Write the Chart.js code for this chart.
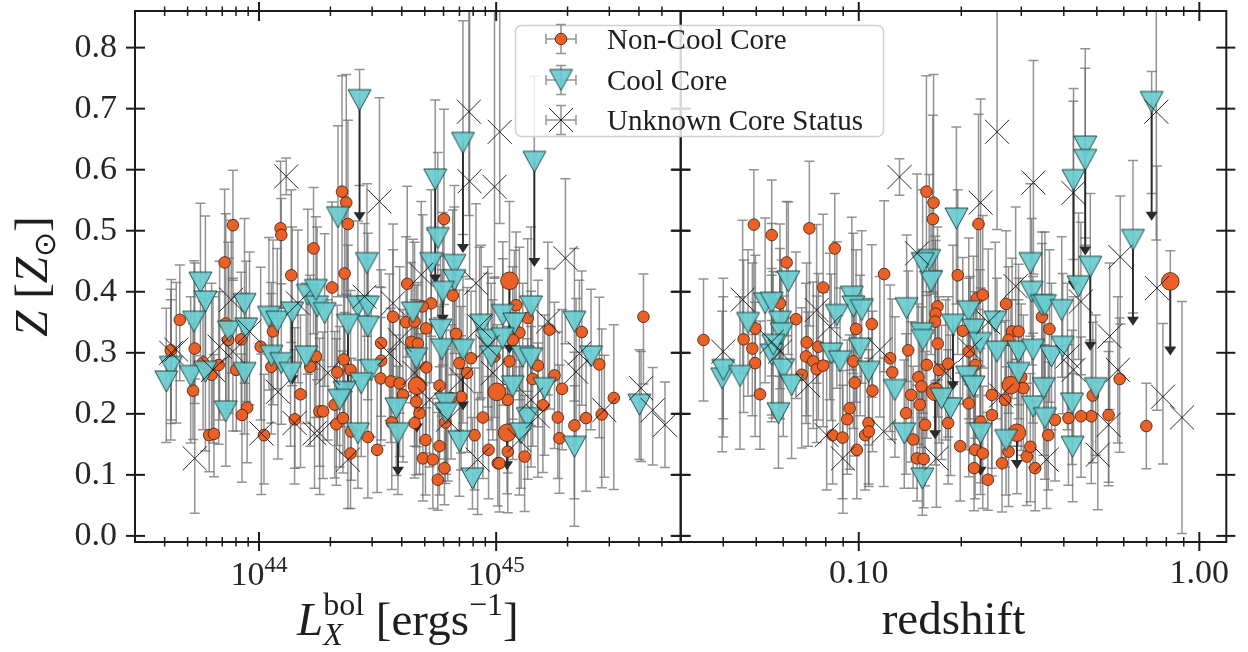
<!DOCTYPE html>
<html>
<head>
<meta charset="utf-8">
<script src="https://cdn.jsdelivr.net/npm/chart.js@4/dist/chart.umd.min.js"></script>
<style>
  html, body { margin: 0; padding: 0; background: #fff; }
  #wrap { position: relative; width: 1248px; height: 652px; }
  #wrap canvas { position: absolute; left: 0; top: 0; }
</style>
</head>
<body>
<div id="wrap">
  <canvas id="lumChart" width="1248" height="652"></canvas>
  <canvas id="zChart" width="1248" height="652"></canvas>
</div>
<script>
// ---------- luminosity panel: [log10 Lx_bol, Z, error below, error above] ----------
const lxNcc = [
  [43.890,0.509,0.09,0.09],[43.855,0.448,0.10,0.12],[43.666,0.354,0.10,0.09],[43.628,0.304,0.12,0.10],
  [43.729,0.307,0.09,0.14],[43.764,0.284,0.11,0.10],[43.830,0.280,0.13,0.12],[43.800,0.264,0.10,0.15],
  [43.722,0.238,0.08,0.11],[43.790,0.165,0.06,0.10],[43.810,0.167,0.07,0.13],[43.860,0.348,0.14,0.18],
  [43.870,0.321,0.12,0.16],[43.904,0.272,0.10,0.12],[43.950,0.210,0.09,0.14],[43.928,0.198,0.11,0.10],
  [43.925,0.322,0.13,0.11],[44.007,0.310,0.12,0.13],[44.021,0.165,0.08,0.10],[44.091,0.504,0.13,0.11],
  [44.094,0.493,0.12,0.06],[44.136,0.427,0.11,0.14],[44.059,0.335,0.12,0.15],[44.052,0.277,0.11,0.12],
  [44.175,0.232,0.12,0.13],[44.151,0.191,0.08,0.15],[44.230,0.471,0.14,0.10],[44.216,0.277,0.13,0.15],
  [44.240,0.294,0.10,0.11],[44.255,0.204,0.09,0.12],
  [44.350,0.564,0.17,0.19],[44.368,0.546,0.15,0.21],[44.375,0.511,0.12,0.17],[44.361,0.430,0.16,0.12],
  [44.308,0.407,0.13,0.14],[44.780,0.519,0.14,0.18],[44.625,0.413,0.12,0.16],[44.726,0.381,0.13,0.12],
  [44.690,0.376,0.10,0.15],[44.565,0.359,0.14,0.11],[44.620,0.350,0.12,0.14],[44.656,0.351,0.11,0.13],
  [44.705,0.340,0.13,0.12],[44.515,0.316,0.12,0.12],[44.642,0.318,0.10,0.13],[44.670,0.315,0.12,0.10],
  [44.817,0.394,0.13,0.14],[44.831,0.331,0.11,0.12],[44.357,0.289,0.11,0.14],[44.330,0.268,0.12,0.11],
  [44.386,0.272,0.10,0.13],[44.515,0.287,0.13,0.12],[44.513,0.258,0.11,0.10],[44.555,0.253,0.10,0.12],
  [44.593,0.250,0.12,0.11],[44.607,0.231,0.11,0.14],[44.705,0.276,0.14,0.10],[44.663,0.220,0.12,0.12],
  [44.677,0.201,0.10,0.13],[44.656,0.185,0.09,0.11],[44.761,0.246,0.12,0.13],[44.845,0.283,0.11,0.12],
  [44.878,0.267,0.13,0.14],[44.852,0.228,0.12,0.10],[44.810,0.226,0.10,0.12],[44.894,0.291,0.12,0.11],
  [44.993,0.294,0.10,0.13],[44.270,0.204,0.11,0.13],[44.319,0.215,0.12,0.12],[44.326,0.183,0.10,0.14],
  [44.354,0.193,0.09,0.11],[44.389,0.171,0.08,0.12],[44.386,0.135,0.09,0.13],[44.459,0.162,0.10,0.10],
  [44.498,0.141,0.07,0.12],[44.560,0.186,0.11,0.12],[44.702,0.157,0.09,0.12],[44.761,0.147,0.08,0.13],
  [44.691,0.127,0.07,0.12],[44.733,0.125,0.08,0.10],[44.782,0.111,0.06,0.12],[44.754,0.092,0.05,0.11],
  [44.786,0.186,0.10,0.12],[44.909,0.165,0.09,0.11],[44.944,0.194,0.10,0.13],[44.968,0.141,0.08,0.12],
  [45.007,0.119,0.07,0.11],
  [45.084,0.378,0.14,0.12],[45.133,0.357,0.12,0.13],[45.098,0.333,0.11,0.14],[45.225,0.338,0.13,0.10],
  [45.361,0.334,0.12,0.10],[45.176,0.279,0.10,0.14],[45.154,0.257,0.11,0.12],[45.246,0.263,0.12,0.12],
  [45.278,0.241,0.10,0.13],[45.197,0.214,0.11,0.13],[45.260,0.194,0.10,0.14],[45.267,0.160,0.09,0.12],
  [45.330,0.181,0.12,0.12],[45.379,0.193,0.12,0.11],[45.435,0.281,0.12,0.11],[45.445,0.199,0.12,0.14],
  [45.496,0.226,0.15,0.12],[45.621,0.359,0.11,0.07],[45.049,0.223,0.12,0.12],[45.014,0.119,0.08,0.12],
  [45.120,0.130,0.09,0.10],[45.049,0.138,0.10,0.11],[45.056,0.286,0.12,0.13],[45.070,0.321,0.13,0.12]
];
const lxNccMarked = [
  [44.666,0.246,0.10,0.14],[45.003,0.236,0.12,0.11],[45.056,0.418,0.11,0.13],[45.046,0.169,0.10,0.12]
];
const lxCc = [
  [43.753,0.415,0.12,0.13],[43.774,0.384,0.11,0.14],[43.726,0.351,0.12,0.10],[43.628,0.277,0.12,0.11],
  [43.609,0.253,0.10,0.12],[43.712,0.262,0.11,0.13],[43.774,0.269,0.13,0.12],[43.873,0.335,0.12,0.12],
  [43.939,0.380,0.13,0.14],[43.946,0.340,0.12,0.11],[43.939,0.267,0.10,0.13],[43.860,0.204,0.09,0.12],
  [44.042,0.359,0.12,0.13],[44.077,0.351,0.11,0.12],[44.052,0.295,0.11,0.12],[44.094,0.283,0.10,0.13],
  [44.140,0.366,0.12,0.14],[44.133,0.267,0.12,0.11],[44.206,0.395,0.13,0.14],[44.199,0.294,0.11,0.12],
  [44.245,0.376,0.12,0.13],
  [44.424,0.714,0.14,0.05],[44.860,0.644,0.15,0.20],[44.333,0.522,0.13,0.15],[44.743,0.584,0.14,0.13],
  [44.455,0.447,0.12,0.13],[44.754,0.488,0.13,0.14],[44.726,0.447,0.12,0.12],[44.824,0.444,0.11,0.13],
  [44.824,0.419,0.12,0.12],[44.775,0.400,0.12,0.13],[44.240,0.403,0.13,0.12],[44.277,0.365,0.12,0.13],
  [44.417,0.376,0.11,0.14],[44.459,0.376,0.12,0.12],[44.459,0.343,0.12,0.11],[44.375,0.346,0.11,0.13],
  [44.649,0.366,0.13,0.12],[44.765,0.338,0.12,0.12],[44.771,0.306,0.11,0.13],[44.860,0.305,0.12,0.12],
  [44.663,0.291,0.11,0.12],[44.937,0.346,0.12,0.13],[44.965,0.321,0.11,0.12],[44.979,0.294,0.12,0.12],
  [44.473,0.272,0.11,0.12],[44.431,0.250,0.12,0.11],[44.361,0.236,0.10,0.13],[44.340,0.223,0.11,0.12],
  [44.579,0.209,0.11,0.12],[44.586,0.168,0.10,0.11],[44.417,0.168,0.09,0.12],[44.789,0.217,0.11,0.12],
  [44.789,0.201,0.10,0.11],[44.845,0.155,0.09,0.11],[44.900,0.094,0.05,0.10],
  [45.161,0.613,0.16,0.14],[45.147,0.376,0.12,0.13],[45.330,0.351,0.13,0.12],[45.400,0.294,0.12,0.11],
  [45.028,0.362,0.12,0.12],[45.077,0.348,0.11,0.12],[45.028,0.324,0.11,0.13],[45.112,0.294,0.12,0.12],
  [45.147,0.291,0.11,0.11],[45.070,0.245,0.12,0.12],[45.204,0.242,0.11,0.12],[45.133,0.193,0.10,0.13],
  [45.105,0.168,0.09,0.12],[45.330,0.146,0.13,0.10],[45.604,0.215,0.09,0.09]
];
const lxUnknown = [
  [44.115,0.589,0.03,0.03],[43.883,0.387,0.12,0.13],[43.651,0.305,0.12,0.11],[43.630,0.300,0.11,0.12],
  [43.834,0.310,0.12,0.14],[43.890,0.302,0.13,0.12],[43.960,0.335,0.12,0.13],[43.729,0.127,0.09,0.13],
  [43.806,0.272,0.12,0.12],[44.010,0.168,0.10,0.13],[44.080,0.236,0.11,0.12],[44.164,0.381,0.13,0.12],
  [44.150,0.185,0.10,0.12],[44.234,0.168,0.09,0.12],
  [44.508,0.548,0.14,0.17],[44.888,0.581,0.16,0.30],[44.993,0.572,0.15,0.30],[44.915,0.414,0.12,0.13],
  [44.445,0.392,0.13,0.12],[44.565,0.381,0.12,0.13],[44.684,0.428,0.13,0.12],[44.593,0.321,0.12,0.12],
  [44.550,0.299,0.11,0.13],[44.656,0.267,0.12,0.12],[44.290,0.267,0.11,0.12],[44.256,0.168,0.10,0.12],
  [44.375,0.125,0.08,0.12],[44.922,0.125,0.09,0.11],[44.719,0.223,0.11,0.12],[44.796,0.190,0.10,0.13],
  [44.852,0.256,0.12,0.12],[44.930,0.343,0.12,0.13],[44.965,0.310,0.12,0.12],[44.986,0.267,0.11,0.12],
  [44.885,0.695,0.17,0.30],[45.015,0.662,0.15,0.30],
  [45.292,0.455,0.14,0.13],[45.218,0.351,0.12,0.13],[45.337,0.269,0.12,0.12],[45.351,0.299,0.11,0.12],
  [45.456,0.206,0.11,0.09],[45.611,0.242,0.12,0.06],[45.660,0.206,0.09,0.07],[45.712,0.182,0.07,0.07],
  [45.147,0.223,0.11,0.12],[45.176,0.196,0.10,0.12],[45.098,0.157,0.09,0.12]
];
// upper limits: [log10 Lx_bol, Z, arrow tip]
const lxLimits = [
  [44.424,0.714,0.522],[44.860,0.644,0.470],[45.161,0.613,0.447],[44.743,0.584,0.420],
  [44.775,0.400,0.354],[44.375,0.346,0.245],[44.860,0.305,0.212],[44.586,0.168,0.105],
  [44.140,0.366,0.255],[44.666,0.246,0.176],[45.056,0.418,0.305],[45.046,0.169,0.114]
];

// ---------- redshift panel: [z, Z, error below, error above] ----------
const zNcc = [
  [0.0350,0.321,0.10,0.10],[0.0492,0.510,0.18,0.09],[0.0555,0.493,0.14,0.09],[0.0614,0.448,0.12,0.10],
  [0.0716,0.504,0.16,0.11],[0.0850,0.471,0.13,0.09],[0.0786,0.407,0.12,0.12],[0.0654,0.355,0.13,0.11],
  [0.0459,0.322,0.12,0.13],[0.0487,0.307,0.11,0.14],[0.0496,0.283,0.12,0.10],[0.0497,0.340,0.11,0.12],
  [0.0587,0.381,0.12,0.13],[0.0513,0.232,0.09,0.12],[0.0703,0.317,0.12,0.13],[0.0700,0.294,0.11,0.12],
  [0.0761,0.310,0.12,0.12],[0.0735,0.286,0.11,0.13],[0.0752,0.273,0.12,0.12],[0.0786,0.279,0.10,0.12],
  [0.0680,0.264,0.12,0.11],[0.0982,0.339,0.12,0.13],[0.0964,0.286,0.11,0.12],[0.0973,0.251,0.12,0.13],
  [0.0940,0.209,0.10,0.12],[0.0925,0.191,0.09,0.13],[0.0838,0.165,0.08,0.12],[0.0896,0.161,0.10,0.11],
  [0.0987,0.141,0.08,0.12],[0.1044,0.165,0.09,0.12],
  [0.1580,0.564,0.17,0.19],[0.1658,0.546,0.15,0.21],[0.1650,0.519,0.12,0.17],[0.2247,0.511,0.14,0.18],
  [0.1187,0.429,0.16,0.12],[0.1953,0.427,0.13,0.14],[0.1703,0.376,0.12,0.13],[0.1680,0.364,0.11,0.12],
  [0.1676,0.351,0.10,0.14],[0.1706,0.315,0.12,0.12],[0.1397,0.304,0.11,0.13],[0.1092,0.347,0.12,0.13],
  [0.1236,0.291,0.12,0.12],[0.1254,0.268,0.11,0.12],[0.1097,0.238,0.10,0.13],[0.1068,0.185,0.10,0.12],
  [0.1070,0.171,0.09,0.12],[0.1584,0.280,0.12,0.12],[0.1497,0.260,0.11,0.12],[0.1527,0.245,0.10,0.13],
  [0.1720,0.272,0.12,0.12],[0.1830,0.282,0.12,0.11],[0.1425,0.231,0.11,0.12],[0.1510,0.215,0.11,0.12],
  [0.1377,0.201,0.10,0.13],[0.1444,0.158,0.08,0.12],[0.1566,0.182,0.10,0.12],[0.1483,0.127,0.07,0.12],
  [0.1550,0.126,0.08,0.11],[0.1985,0.147,0.09,0.12],[0.1830,0.185,0.10,0.12],[0.2104,0.217,0.12,0.12],
  [0.2222,0.389,0.13,0.12],[0.2312,0.395,0.12,0.13],[0.2020,0.336,0.12,0.12],[0.2104,0.302,0.11,0.12],
  [0.2200,0.280,0.12,0.12],[0.2707,0.380,0.13,0.12],[0.2820,0.335,0.11,0.12],[0.2945,0.335,0.12,0.11],
  [0.2753,0.321,0.12,0.12],[0.2998,0.260,0.12,0.12],[0.3043,0.242,0.11,0.12],[0.2459,0.231,0.12,0.12],
  [0.2459,0.198,0.10,0.12],[0.2688,0.223,0.11,0.13],[0.2279,0.187,0.10,0.12],[0.2196,0.141,0.08,0.12],
  [0.2312,0.135,0.09,0.11],[0.2180,0.111,0.07,0.12],[0.2394,0.092,0.05,0.11],[0.2634,0.119,0.08,0.11],
  [0.2753,0.138,0.09,0.12],[0.3115,0.130,0.08,0.12],[0.3296,0.111,0.07,0.11],[0.3190,0.146,0.09,0.12],
  [0.3450,0.359,0.13,0.12],
  [0.6988,0.180,0.07,0.07],[0.5834,0.257,0.12,0.10],[0.5415,0.198,0.11,0.12],[0.4816,0.196,0.11,0.12],
  [0.4494,0.196,0.10,0.13],[0.4127,0.193,0.11,0.12],[0.3630,0.339,0.12,0.13],[0.3600,0.165,0.09,0.12],
  [0.3768,0.190,0.10,0.12],[0.4866,0.230,0.11,0.12]
];
const zNccMarked = [
  [0.8217,0.417,0.11,0.05],[0.1676,0.236,0.12,0.11],[0.2797,0.247,0.10,0.14],[0.2913,0.169,0.10,0.12]
];
const zCc = [
  [0.0397,0.258,0.12,0.11],[0.0400,0.272,0.11,0.12],[0.0448,0.262,0.12,0.13],[0.0473,0.349,0.12,0.12],
  [0.0531,0.381,0.13,0.14],[0.0555,0.382,0.12,0.13],[0.0621,0.417,0.12,0.13],[0.0587,0.351,0.11,0.12],
  [0.0594,0.332,0.12,0.12],[0.0555,0.297,0.11,0.13],[0.0561,0.313,0.12,0.12],[0.0600,0.273,0.11,0.12],
  [0.0635,0.247,0.12,0.11],[0.0581,0.201,0.09,0.12],[0.0954,0.392,0.12,0.13],[0.0964,0.376,0.11,0.12],
  [0.0862,0.362,0.12,0.12],[0.0830,0.299,0.11,0.13],[0.0881,0.286,0.12,0.12],[0.1009,0.307,0.11,0.12],
  [0.1935,0.520,0.14,0.15],[0.1610,0.452,0.12,0.14],[0.1630,0.417,0.12,0.13],[0.1540,0.447,0.13,0.12],
  [0.1382,0.373,0.12,0.12],[0.1534,0.332,0.11,0.13],[0.1543,0.321,0.12,0.12],[0.1277,0.239,0.11,0.12],
  [0.1068,0.269,0.12,0.12],[0.1020,0.370,0.12,0.13],[0.1360,0.168,0.09,0.12],[0.1537,0.094,0.06,0.10],
  [0.1891,0.346,0.12,0.13],[0.2104,0.368,0.12,0.12],[0.2172,0.338,0.11,0.12],[0.2516,0.351,0.12,0.13],
  [0.2546,0.302,0.11,0.12],[0.2270,0.316,0.12,0.12],[0.2081,0.261,0.12,0.12],[0.2172,0.245,0.11,0.12],
  [0.1859,0.209,0.11,0.12],[0.1750,0.225,0.10,0.12],[0.2279,0.168,0.10,0.11],[0.2707,0.157,0.09,0.12],
  [0.3190,0.447,0.12,0.13],[0.3220,0.400,0.12,0.12],[0.3450,0.378,0.12,0.12],[0.2945,0.302,0.11,0.12],
  [0.3250,0.305,0.12,0.12],[0.3250,0.212,0.10,0.12],[0.2945,0.267,0.12,0.12],
  [0.4624,0.638,0.15,0.16],[0.4624,0.616,0.14,0.15],[0.4272,0.583,0.13,0.15],[0.4784,0.441,0.12,0.12],
  [0.6384,0.485,0.12,0.13],[0.7244,0.711,0.15,0.05],[0.4420,0.409,0.12,0.12],[0.3520,0.378,0.12,0.12],
  [0.3944,0.370,0.11,0.12],[0.3680,0.294,0.12,0.12],[0.3970,0.310,0.11,0.12],[0.3490,0.242,0.11,0.12],
  [0.4226,0.217,0.10,0.12],[0.4965,0.242,0.11,0.12],[0.3520,0.193,0.10,0.12],[0.4245,0.146,0.09,0.12]
];
const zUnknown = [
  [0.0456,0.387,0.12,0.13],[0.0400,0.302,0.11,0.12],[0.0555,0.318,0.12,0.12],[0.0587,0.302,0.11,0.13],
  [0.0710,0.247,0.10,0.12],[0.0752,0.370,0.12,0.14],[0.0822,0.343,0.12,0.12],[0.0805,0.165,0.09,0.12],
  [0.0898,0.127,0.09,0.12],
  [0.1317,0.588,0.03,0.03],[0.2279,0.546,0.14,0.17],[0.3257,0.579,0.15,0.20],[0.2547,0.662,0.16,0.30],
  [0.1483,0.463,0.12,0.13],[0.1153,0.305,0.11,0.12],[0.1184,0.171,0.09,0.12],[0.1690,0.127,0.08,0.12],
  [0.2889,0.409,0.12,0.13],[0.2125,0.305,0.12,0.12],[0.1800,0.267,0.11,0.12],[0.2400,0.350,0.12,0.12],
  [0.2620,0.230,0.11,0.12],
  [0.5859,0.457,0.11,0.10],[0.7509,0.406,0.20,0.20],[0.5455,0.327,0.12,0.12],[0.5763,0.272,0.12,0.12],
  [0.7819,0.228,0.11,0.12],[0.8893,0.194,0.19,0.19],[0.5415,0.182,0.10,0.12],[0.5033,0.133,0.09,0.12],
  [0.4490,0.384,0.12,0.13],[0.4272,0.272,0.11,0.12],[0.4266,0.562,0.14,0.15],[0.7475,0.695,0.21,0.30],
  [0.3560,0.125,0.08,0.12],[0.4100,0.294,0.12,0.12]
];
// upper limits: [z, Z, arrow tip]
const zLimits = [
  [0.4624,0.616,0.466],[0.4272,0.583,0.410],[0.4784,0.441,0.310],[0.6384,0.485,0.351],
  [0.7244,0.711,0.523],[0.1891,0.346,0.245],[0.2279,0.168,0.105],
  [0.8217,0.417,0.302],[0.1676,0.236,0.165],[0.2913,0.169,0.116]
];

// ---------- axes ----------
const metalTicks = [0.0, 0.1, 0.2, 0.3, 0.4, 0.5, 0.6, 0.7, 0.8];
const lumTickExponents = [44, 45];
const redshiftTicks = [0.1, 1.0];
const legendLabels = ['Non-Cool Core', 'Cool Core', 'Unknown Core Status'];

const SERIF = "'Liberation Serif', 'DejaVu Serif', serif";
const ORANGE = '#ea6128';
const ORANGE_EDGE = 'rgba(70,25,5,0.9)';
const BAR = 'rgba(105,105,105,0.72)';
const INK = '#1c1c1c';

function triangleMarker() {
  const c = document.createElement('canvas');
  c.width = 27; c.height = 25;
  const g = c.getContext('2d');
  g.beginPath();
  g.moveTo(2, 2); g.lineTo(25, 2); g.lineTo(13.5, 23); g.closePath();
  g.fillStyle = 'rgba(104,204,206,0.92)';
  g.fill();
  g.strokeStyle = 'rgba(25,55,55,0.9)';
  g.lineWidth = 1;
  g.stroke();
  return c;
}
const TRIANGLE = triangleMarker();

function buildDatasets(ncc, marked, cc, unknown, xv) {
  const pts = rows => rows.map(r => ({ x: xv(r), y: r[1] }));
  return [
    { label: legendLabels[2], data: pts(unknown), order: 1, pointStyle: 'crossRot', pointRadius: 17,
      pointBorderColor: 'rgba(20,20,20,0.9)', pointBorderWidth: 1, pointBackgroundColor: 'rgba(0,0,0,0)' },
    { label: legendLabels[1], data: pts(cc), order: 2, pointStyle: TRIANGLE, pointRadius: 12 },
    { label: legendLabels[0], data: pts(marked), order: 3, pointStyle: 'circle', pointRadius: 8.8,
      pointBackgroundColor: ORANGE, pointBorderColor: ORANGE_EDGE, pointBorderWidth: 0.9 },
    { label: legendLabels[0], data: pts(ncc), order: 4, pointStyle: 'circle', pointRadius: 5.8,
      pointBackgroundColor: ORANGE, pointBorderColor: ORANGE_EDGE, pointBorderWidth: 0.9 }
  ];
}

// vertical error bars with caps, drawn beneath the markers
function drawErrorBars(chart, groups, xv) {
  const { ctx, chartArea: a, scales: { x, y } } = chart;
  ctx.save();
  ctx.beginPath(); ctx.rect(a.left, a.top, a.right - a.left, a.bottom - a.top); ctx.clip();
  ctx.strokeStyle = BAR; ctx.lineWidth = 1.5;
  for (const rows of groups) {
    for (const r of rows) {
      const px = x.getPixelForValue(xv(r));
      const lo = y.getPixelForValue(r[1] - r[2]);
      const hi = y.getPixelForValue(r[1] + r[3]);
      ctx.beginPath();
      ctx.moveTo(px, lo); ctx.lineTo(px, hi);
      ctx.moveTo(px - 5, lo); ctx.lineTo(px + 5, lo);
      ctx.moveTo(px - 5, hi); ctx.lineTo(px + 5, hi);
      ctx.stroke();
    }
  }
  ctx.restore();
}

// downward arrows marking upper limits
function drawLimitArrows(chart, rows, xv) {
  const { ctx, chartArea: a, scales: { x, y } } = chart;
  ctx.save();
  ctx.beginPath(); ctx.rect(a.left, a.top, a.right - a.left, a.bottom - a.top); ctx.clip();
  ctx.strokeStyle = '#2a2a2a'; ctx.fillStyle = '#2a2a2a'; ctx.lineWidth = 1.9;
  for (const r of rows) {
    const px = x.getPixelForValue(xv(r));
    const y0 = y.getPixelForValue(r[1]);
    const y1 = y.getPixelForValue(r[2]);
    ctx.beginPath(); ctx.moveTo(px, y0); ctx.lineTo(px, y1 - 4); ctx.stroke();
    ctx.beginPath();
    ctx.moveTo(px - 6, y1 - 5); ctx.lineTo(px + 6, y1 - 5); ctx.lineTo(px, y1 + 4); ctx.closePath();
    ctx.fill();
  }
  ctx.restore();
}

function minorLogTicks(min, max, majors) {
  const out = [];
  for (let e = Math.floor(Math.log10(min)); e <= Math.ceil(Math.log10(max)); e++) {
    for (let m = 2; m <= 9; m++) {
      const v = m * Math.pow(10, e);
      if (v > min * 1.0001 && v < max * 0.9999 && !majors.includes(v)) out.push(v);
    }
  }
  return out;
}

// box frame with ticks crossing the spines on all four sides
function drawFrame(chart, xMajor, xMinor) {
  const { ctx, chartArea: a, scales: { x, y } } = chart;
  ctx.save();
  ctx.strokeStyle = INK;
  const seg = (x0, y0, x1, y1) => { ctx.beginPath(); ctx.moveTo(x0, y0); ctx.lineTo(x1, y1); ctx.stroke(); };
  ctx.lineWidth = 1.5;
  for (const v of xMinor) {
    const p = x.getPixelForValue(v);
    seg(p, a.bottom - 5, p, a.bottom + 4.5);
    seg(p, a.top - 4.5, p, a.top + 5);
  }
  ctx.lineWidth = 2;
  for (const v of xMajor) {
    const p = x.getPixelForValue(v);
    seg(p, a.bottom - 10, p, a.bottom + 9);
    seg(p, a.top - 9, p, a.top + 10);
  }
  for (const v of metalTicks) {
    const p = y.getPixelForValue(v);
    seg(a.left - 9, p, a.left + 10, p);
    seg(a.right - 10, p, a.right + 9, p);
  }
  ctx.lineWidth = 2;
  ctx.strokeRect(a.left, a.top, a.right - a.left, a.bottom - a.top);
  ctx.restore();
}

// text made of pieces: [text, font, vertical shift, advances?]
function drawPieces(ctx, pieces, cx, baseline) {
  let w = 0;
  for (const p of pieces) { ctx.font = p[1]; if (p[3] !== false) w += ctx.measureText(p[0]).width; }
  let xx = cx - w / 2;
  ctx.textAlign = 'left'; ctx.textBaseline = 'alphabetic';
  for (const p of pieces) {
    ctx.font = p[1];
    ctx.fillText(p[0], xx, baseline + p[2]);
    if (p[3] !== false) xx += ctx.measureText(p[0]).width;
  }
}

const pinBox = (w, h) => s => {
  if (w != null) s.width = w;
  if (h != null) s.height = h;
  s.paddingLeft = s.paddingRight = s.paddingTop = s.paddingBottom = 0;
};

const PANEL_LEFT = 135, PANEL_MID = 680.7, PANEL_RIGHT = 1226.3, PANEL_TOP = 11, PANEL_BOTTOM = 542;
const W = 1248, H = 652;

// ---------- luminosity panel ----------
const lumX = r => Math.pow(10, r[0]);
const lumMajor = lumTickExponents.map(e => Math.pow(10, e));
const lumMin = 3e43, lumMax = 6e45;

new Chart(document.getElementById('lumChart'), {
  type: 'scatter',
  data: { datasets: buildDatasets(lxNcc, lxNccMarked, lxCc, lxUnknown, lumX) },
  options: {
    responsive: false, animation: false, events: [],
    layout: { autoPadding: false, padding: { left: 0, right: W - PANEL_MID, top: PANEL_TOP, bottom: 0 } },
    plugins: { legend: { display: false }, tooltip: { enabled: false } },
    scales: {
      x: {
        type: 'logarithmic', min: lumMin, max: lumMax,
        grid: { display: false, drawTicks: false }, border: { display: false },
        ticks: { display: false },
        afterFit: pinBox(null, H - PANEL_BOTTOM)
      },
      y: {
        type: 'linear', min: -0.01, max: 0.86,
        grid: { display: false, drawTicks: false }, border: { display: false },
        afterBuildTicks: s => { s.ticks = metalTicks.map(v => ({ value: v })); },
        ticks: { padding: 18, color: '#262626', font: { family: SERIF, size: 34 },
                 callback: v => Number(v).toFixed(1) },
        afterFit: pinBox(PANEL_LEFT, null)
      }
    }
  },
  plugins: [{
    id: 'lumDecor',
    beforeDatasetsDraw(chart) {
      drawErrorBars(chart, [lxNcc, lxNccMarked, lxCc, lxUnknown], lumX);
      drawLimitArrows(chart, lxLimits, lumX);
    },
    afterDraw(chart) {
      drawFrame(chart, lumMajor, minorLogTicks(lumMin, lumMax, lumMajor));
      const { ctx, scales: { x } } = chart;
      ctx.save();
      ctx.fillStyle = '#262626';
      lumTickExponents.forEach(e => {
        const p = x.getPixelForValue(Math.pow(10, e));
        drawPieces(ctx, [['10', `34px ${SERIF}`, 0], [String(e), `23px ${SERIF}`, -13]], p, 585);
      });
      // x title: L_X^bol [erg s^-1]
      ctx.fillStyle = '#1e1e1e';
      drawPieces(ctx, [
        ['L', `italic 47px ${SERIF}`, 0],
        ['X', `italic 32px ${SERIF}`, 10, false],
        ['bol', `32px ${SERIF}`, -20],
        [' [ergs', `47px ${SERIF}`, 0],
        ['\u22121', `32px ${SERIF}`, -20],
        [']', `47px ${SERIF}`, 0]
      ], (PANEL_LEFT + PANEL_MID) / 2, 635);
      // y title: Z [Z_sun]
      ctx.translate(47, (PANEL_TOP + PANEL_BOTTOM) / 2);
      ctx.rotate(-Math.PI / 2);
      drawPieces(ctx, [
        ['Z', `italic 47px ${SERIF}`, 0],
        [' [', `47px ${SERIF}`, 0],
        ['Z', `italic 47px ${SERIF}`, 0],
        ['\u2299', `30px 'DejaVu Sans', ${SERIF}`, 8],
        [']', `47px ${SERIF}`, 0]
      ], 0, 0);
      ctx.restore();
    }
  }]
});

// ---------- redshift panel ----------
const zX = r => r[0];
const zMin = 0.03, zMax = 1.2;

new Chart(document.getElementById('zChart'), {
  type: 'scatter',
  data: { datasets: buildDatasets(zNcc, zNccMarked, zCc, zUnknown, zX) },
  options: {
    responsive: false, animation: false, events: [],
    layout: { autoPadding: false, padding: { left: PANEL_MID, right: W - PANEL_RIGHT, top: PANEL_TOP, bottom: 0 } },
    plugins: { legend: { display: false }, tooltip: { enabled: false } },
    scales: {
      x: {
        type: 'logarithmic', min: zMin, max: zMax,
        grid: { display: false, drawTicks: false }, border: { display: false },
        afterBuildTicks: s => { s.ticks = redshiftTicks.map(v => ({ value: v })); },
        ticks: { padding: 12, color: '#262626', font: { family: SERIF, size: 34 }, autoSkip: false,
                 maxRotation: 0, callback: v => Number(v).toFixed(2) },
        afterFit: pinBox(null, H - PANEL_BOTTOM)
      },
      y: {
        type: 'linear', min: -0.01, max: 0.86, display: false
      }
    }
  },
  plugins: [{
    id: 'zDecor',
    beforeDatasetsDraw(chart) {
      drawErrorBars(chart, [zNcc, zNccMarked, zCc, zUnknown], zX);
      drawLimitArrows(chart, zLimits, zX);
    },
    afterDraw(chart) {
      drawFrame(chart, redshiftTicks, minorLogTicks(zMin, zMax, redshiftTicks));
      const { ctx } = chart;
      ctx.save();
      ctx.fillStyle = '#1e1e1e';
      drawPieces(ctx, [['redshift', `47px ${SERIF}`, 0]], (PANEL_MID + PANEL_RIGHT) / 2, 634);

      // legend, drawn over both panels
      ctx.beginPath();
      ctx.roundRect(515.5, 25.5, 368, 111, 6);
      ctx.fillStyle = 'rgba(255,255,255,0.82)';
      ctx.fill();
      ctx.strokeStyle = '#cfcfcf'; ctx.lineWidth = 1.5;
      ctx.stroke();
      const mx = 561, rows = [39, 80, 120];
      rows.forEach(cy => {
        ctx.strokeStyle = BAR; ctx.lineWidth = 1.5;
        ctx.beginPath();
        ctx.moveTo(mx, cy - 14.5); ctx.lineTo(mx, cy + 14.5);
        ctx.moveTo(mx - 5, cy - 14.5); ctx.lineTo(mx + 5, cy - 14.5);
        ctx.moveTo(mx - 5, cy + 14.5); ctx.lineTo(mx + 5, cy + 14.5);
        ctx.moveTo(mx - 15, cy); ctx.lineTo(mx + 15, cy);
        ctx.moveTo(mx - 15, cy - 5); ctx.lineTo(mx - 15, cy + 5);
        ctx.moveTo(mx + 15, cy - 5); ctx.lineTo(mx + 15, cy + 5);
        ctx.stroke();
      });
      ctx.beginPath(); ctx.arc(mx, rows[0], 5.8, 0, Math.PI * 2);
      ctx.fillStyle = ORANGE; ctx.fill();
      ctx.strokeStyle = ORANGE_EDGE; ctx.lineWidth = 0.9; ctx.stroke();
      ctx.drawImage(TRIANGLE, mx - TRIANGLE.width / 2, rows[1] - TRIANGLE.height / 2);
      ctx.strokeStyle = 'rgba(20,20,20,0.9)'; ctx.lineWidth = 1;
      ctx.beginPath();
      ctx.moveTo(mx - 12, rows[2] - 12); ctx.lineTo(mx + 12, rows[2] + 12);
      ctx.moveTo(mx - 12, rows[2] + 12); ctx.lineTo(mx + 12, rows[2] - 12);
      ctx.stroke();
      ctx.fillStyle = '#1e1e1e';
      ctx.font = `29px ${SERIF}`; ctx.textAlign = 'left'; ctx.textBaseline = 'alphabetic';
      legendLabels.forEach((t, i) => ctx.fillText(t, 607, rows[i] + 10));
      ctx.restore();
    }
  }]
});
</script>
</body>
</html>
